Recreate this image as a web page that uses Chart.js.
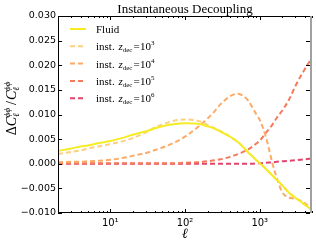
<!DOCTYPE html>
<html>
<head>
<meta charset="utf-8">
<script src="https://cdn.jsdelivr.net/npm/chart.js@4"></script>
<style>
  html, body { margin: 0; padding: 0; background: #fff; }
  canvas { display: block; }
</style>
</head>
<body>
<canvas id="chart" width="316" height="246"></canvas>
<script>
// multipole grid shared by all curves
const ells = [2, 3, 4, 5, 7, 10, 15, 20, 30, 40, 50, 70, 100, 150, 200, 250, 300, 400, 500,
              600, 700, 800, 900, 1000, 1200, 1500, 1700, 2000, 2500, 3000, 4000, 5000];

const fluid = [0.0026, 0.0031, 0.0035, 0.0037, 0.0042, 0.0046, 0.0053, 0.0059, 0.0066, 0.0072, 0.0076, 0.0080, 0.0082,
               0.0081, 0.0076, 0.0071, 0.0065, 0.0055, 0.0045, 0.0034, 0.0023, 0.0015, 0.0007, 0.0001, -0.0010,
               -0.0025, -0.0033, -0.0044, -0.0060, -0.0069, -0.0083, -0.0094];
const zdec3 = [0.0020, 0.0024, 0.0027, 0.0031, 0.0035, 0.0040, 0.0046, 0.0052, 0.0064, 0.0074, 0.0080, 0.0087, 0.0090,
               0.0087, 0.0079, 0.0072, 0.0066, 0.0055, 0.0045, 0.0034, 0.0023, 0.0015, 0.0007, 0.0001, -0.0010,
               -0.0025, -0.0033, -0.0044, -0.0060, -0.0069, -0.0083, -0.0094];
const zdec4 = [0.0003, 0.0004, 0.0004, 0.0005, 0.0006, 0.0008, 0.0012, 0.0016, 0.0022, 0.0028, 0.0033, 0.0042, 0.0055,
               0.0075, 0.0092, 0.0107, 0.0121, 0.0137, 0.0142, 0.0138, 0.0128, 0.0114, 0.0100, 0.0089, 0.0056,
               -0.0003, -0.0030, -0.0058, -0.0069, -0.0071, -0.0080, -0.0094];
const zdec5 = [0.0001, 0.0001, 0.0001, 0.0001, 0.0001, 0.0001, 0.0001, 0.0001, 0.0001, 0.0001, 0.0001, 0.0001, 0.0002,
               0.0003, 0.0005, 0.0007, 0.0009, 0.0014, 0.0019, 0.0024, 0.0029, 0.0035, 0.0041, 0.0047, 0.0062,
               0.0081, 0.0094, 0.0108, 0.0132, 0.0158, 0.0192, 0.0215];
const zdec6 = [0.0000, 0.0000, 0.0000, 0.0000, 0.0000, 0.0000, 0.0000, 0.0000, 0.0000, 0.0000, 0.0000, 0.0000, 0.0000,
               0.0000, 0.0000, 0.0000, 0.0000, 0.0000, 0.0000, 0.0000, 0.0000, 0.0000, 0.0001, 0.0001, 0.0002,
               0.0003, 0.0004, 0.0005, 0.0006, 0.0007, 0.0009, 0.0011];

const seriesLabels = ['Fluid', '3', '4', '5', '6'];
const seriesColors = ['#f5ec25', '#fdd080', '#fcaa66', '#f47a5c', '#e2456a'];
const seriesValues = [fluid, zdec3, zdec4, zdec5, zdec6];

const yTicks = [-0.010, -0.005, 0.000, 0.005, 0.010, 0.015, 0.020, 0.025, 0.030];
const xTicks = [10, 100, 1000];
const xTickLabels = ['10¹', '10²', '10³'];

const SERIF = '"Liberation Serif", "DejaVu Serif", serif';
const SANS = '"DejaVu Sans", sans-serif';

// draw a run of text pieces with their own font and vertical shift
function drawRich(ctx, parts, x, y, align) {
    let w = 0;
    parts.forEach(p => { ctx.font = p.f; w += ctx.measureText(p.t).width + (p.gap || 0); });
    let cx = align === 'center' ? x - w / 2 : x;
    ctx.textAlign = 'left';
    ctx.textBaseline = 'alphabetic';
    parts.forEach(p => {
        ctx.font = p.f;
        ctx.fillText(p.t, cx, y + (p.dy || 0));
        cx += ctx.measureText(p.t).width + (p.gap || 0);
    });
}

const decor = {
    id: 'decor',
    afterDraw(chart) {
        const ctx = chart.ctx;
        const a = chart.chartArea;
        const xs = chart.scales.x, ys = chart.scales.y;
        ctx.save();
        ctx.fillStyle = '#000';
        ctx.strokeStyle = '#000';

        // frame
        ctx.lineWidth = 1;
        ctx.beginPath();
        ctx.moveTo(a.right, a.top + 0.5);
        ctx.lineTo(a.left + 0.5, a.top + 0.5);
        ctx.lineTo(a.left + 0.5, a.bottom - 0.5);
        ctx.lineTo(a.right, a.bottom - 0.5);
        ctx.stroke();
        ctx.strokeStyle = '#a0a0a0';
        ctx.lineWidth = 2;
        ctx.beginPath();
        ctx.moveTo(a.right - 1, a.top);
        ctx.lineTo(a.right - 1, a.bottom);
        ctx.stroke();

        // inward ticks
        ctx.strokeStyle = '#000';
        ctx.lineWidth = 1;
        ctx.beginPath();
        yTicks.forEach(v => {
            const py = Math.round(ys.getPixelForValue(v)) + 0.5;
            ctx.moveTo(a.left, py); ctx.lineTo(a.left + 4, py);
            ctx.moveTo(a.right - 2, py); ctx.lineTo(a.right - 6, py);
        });
        for (let d = 1; d <= 1000; d *= 10) {
            for (let m = 1; m <= 9; m++) {
                const v = d * m;
                if (v < 2 || v > 5000) continue;
                const px = Math.round(xs.getPixelForValue(v)) + 0.5;
                const len = m === 1 ? 4 : 2;
                ctx.moveTo(px, a.bottom); ctx.lineTo(px, a.bottom - len);
                ctx.moveTo(px, a.top); ctx.lineTo(px, a.top + len);
            }
        }
        ctx.stroke();

        // title
        ctx.font = '13px ' + SERIF;
        ctx.textAlign = 'center';
        ctx.textBaseline = 'alphabetic';
        ctx.fillText('Instantaneous Decoupling', (a.left + a.right) / 2, 13);

        // x label
        drawRich(ctx, [{ t: 'ℓ', f: 'italic 14px ' + SERIF }], (a.left + a.right) / 2, 238, 'center');

        // y label
        ctx.save();
        ctx.translate(16, (a.top + a.bottom) / 2 - 6);
        ctx.rotate(-Math.PI / 2);
        const big = '14px ' + SERIF, bigI = 'italic 14px ' + SERIF, sm = 'italic 9px ' + SERIF;
        drawRich(ctx, [
            { t: 'Δ', f: big },
            { t: 'C', f: bigI },
            { t: 'ℓ', f: sm, dy: 3, gap: -4 },
            { t: 'ϕϕ', f: sm, dy: -6, gap: 3 },
            { t: '/', f: big, gap: 1 },
            { t: 'C', f: bigI },
            { t: 'ℓ', f: sm, dy: 3, gap: -4 },
            { t: 'ϕϕ', f: sm, dy: -6 }
        ], 0, 0, 'center');
        ctx.restore();

        // legend
        const lx = 70, ly0 = 29, step = 17.3;
        seriesLabels.forEach((lab, i) => {
            const y = ly0 + i * step;
            ctx.strokeStyle = seriesColors[i];
            ctx.lineWidth = 2;
            ctx.setLineDash(i === 0 ? [] : [5, 3]);
            ctx.beginPath();
            ctx.moveTo(lx, y); ctx.lineTo(lx + 16, y);
            ctx.stroke();
            ctx.setLineDash([]);
            ctx.fillStyle = '#000';
            if (i === 0) {
                drawRich(ctx, [{ t: 'Fluid', f: '11px ' + SERIF }], 96, y + 4, 'left');
            } else {
                drawRich(ctx, [
                    { t: 'inst. ', f: '11px ' + SERIF, gap: 1 },
                    { t: 'z', f: 'italic 11px ' + SERIF },
                    { t: 'dec', f: '7px ' + SERIF, dy: 2, gap: 1 },
                    { t: '=', f: '11px ' + SERIF, gap: 0.5 },
                    { t: '10', f: '11px ' + SERIF },
                    { t: lab, f: '7px ' + SERIF, dy: -5 }
                ], 96, y + 4, 'left');
            }
        });
        ctx.restore();
    }
};

const datasets = seriesValues.map((vals, i) => ({
    label: seriesLabels[i],
    data: ells.map((l, k) => ({ x: l, y: vals[k] })),
    borderColor: seriesColors[i],
    borderWidth: 2,
    borderDash: i === 0 ? [] : [5, 3],
    pointRadius: 0,
    cubicInterpolationMode: 'monotone',
    fill: false
}));

new Chart(document.getElementById('chart'), {
    type: 'line',
    data: { datasets },
    options: {
        responsive: false,
        animation: false,
        devicePixelRatio: 1,
        layout: { padding: { top: 16, right: 4, left: 0, bottom: 0 } },
        plugins: { legend: { display: false }, tooltip: { enabled: false } },
        scales: {
            x: {
                type: 'logarithmic',
                min: 2,
                max: 5000,
                grid: { display: false, drawTicks: false },
                border: { display: false },
                afterBuildTicks: s => { s.ticks = xTicks.map(v => ({ value: v })); },
                afterFit: s => { s.height = 33; },
                ticks: {
                    padding: 4,
                    color: '#000',
                    font: { family: SANS, size: 10 },
                    maxRotation: 0,
                    callback: v => xTickLabels[xTicks.indexOf(v)] || ''
                }
            },
            y: {
                type: 'linear',
                min: -0.010,
                max: 0.030,
                grid: { display: false, drawTicks: false },
                border: { display: false },
                afterBuildTicks: s => { s.ticks = yTicks.map(v => ({ value: v })); },
                afterFit: s => { s.width = 58; },
                ticks: {
                    padding: 2,
                    color: '#000',
                    font: { family: SANS, size: 9.5 },
                    callback: v => (v < 0 ? '−' : '') + Math.abs(v).toFixed(3)
                }
            }
        }
    },
    plugins: [decor]
});
</script>
</body>
</html>
